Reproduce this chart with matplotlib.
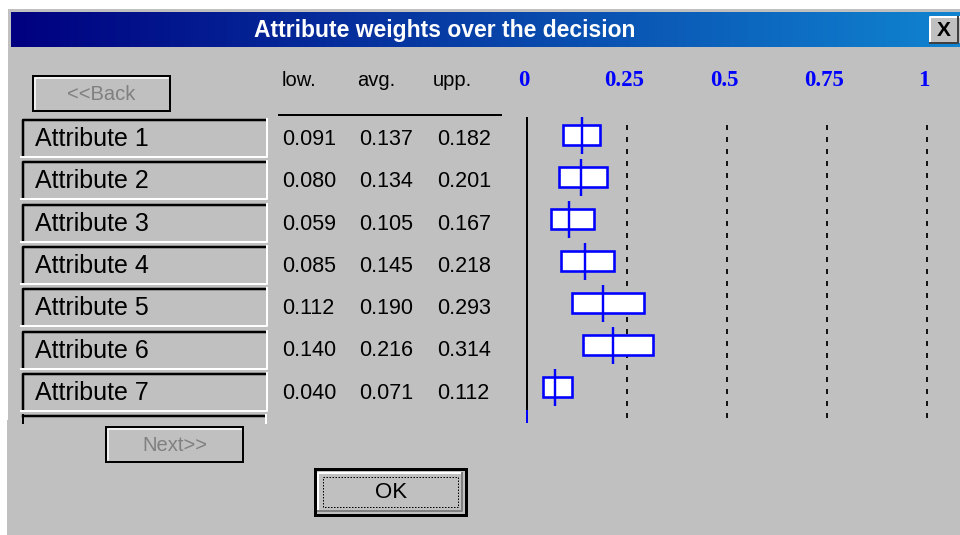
import numpy as np
import matplotlib
matplotlib.use('Agg')
import matplotlib.pyplot as plt
from matplotlib.patches import Rectangle
from matplotlib.colors import LinearSegmentedColormap

plt.rcParams['font.family'] = ['Liberation Sans', 'DejaVu Sans']

# data read from the dialog
attributes = ['Attribute 1', 'Attribute 2', 'Attribute 3', 'Attribute 4',
              'Attribute 5', 'Attribute 6', 'Attribute 7']
low = [0.091, 0.080, 0.059, 0.085, 0.112, 0.140, 0.040]
avg = [0.137, 0.134, 0.105, 0.145, 0.190, 0.216, 0.071]
upp = [0.182, 0.201, 0.167, 0.218, 0.293, 0.314, 0.112]
ticks = [0, 0.25, 0.5, 0.75, 1]
tick_labels = ['0', '0.25', '0.5', '0.75', '1']
columns = ['low.', 'avg.', 'upp.']

title = 'Attribute weights over the decision'
GRAY = '#c0c0c0'
PX = 0.72  # one pixel in points at dpi 100

fig = plt.figure(figsize=(9.6, 5.35), dpi=100)
fig.patch.set_facecolor('white')

# ---- dialog chrome, in pixel coordinates ----
ax0 = fig.add_axes([0, 0, 1, 1])
ax0.set_xlim(0, 960)
ax0.set_ylim(535, 0)
ax0.axis('off')

ax0.add_patch(Rectangle((8, 9), 960, 420, color=GRAY, lw=0))
ax0.add_patch(Rectangle((7, 420), 960, 120, color=GRAY, lw=0))

# title bar gradient
cmap = LinearSegmentedColormap.from_list('tb', ['#000080', '#1084d0'])
ax0.imshow(np.linspace(0, 1, 256)[None, :], cmap=cmap, aspect='auto',
           extent=(11, 960, 47, 12), zorder=1)
ax0.text(445, 30, title, color='white', fontsize=16.5, fontweight='bold',
         ha='center', va='center', zorder=3)

# close button
ax0.add_patch(Rectangle((930, 17), 30, 26, facecolor=GRAY, lw=0, zorder=2))
ax0.plot([930, 930, 960], [43, 17, 17], color='white', lw=2 * PX, zorder=3)
ax0.plot([930, 958, 958], [43, 43, 17], color='#404040', lw=2 * PX, zorder=3)
ax0.text(944, 30, 'X', fontsize=15, fontweight='bold', ha='center',
         va='center', zorder=4)


def button(x0, y0, x1, y1, label, color, fs):
    ax0.add_patch(Rectangle((x0, y0), x1 - x0, y1 - y0, facecolor=GRAY,
                            edgecolor='black', lw=2 * PX, zorder=2))
    ax0.plot([x0 + 2, x0 + 2, x1 - 2], [y1 - 2, y0 + 2, y0 + 2],
             color='white', lw=1.5 * PX, zorder=3)
    ax0.text((x0 + x1) / 2, (y0 + y1) / 2 + 1, label, color=color,
             fontsize=fs, ha='center', va='center', zorder=4)


button(33, 76, 170, 111, '<<Back', '#808080', 14.5)
button(106, 427, 243, 462, 'Next>>', '#808080', 14.5)

# OK button
ax0.add_patch(Rectangle((315, 469), 151, 46, facecolor=GRAY,
                        edgecolor='black', lw=3 * PX, zorder=2))
ax0.plot([318, 318, 462], [511, 473, 473], color='white', lw=2 * PX, zorder=3)
ax0.plot([318, 462, 462], [511, 511, 473], color='#808080', lw=2 * PX, zorder=3)
ax0.add_patch(Rectangle((323, 477), 135, 30, fill=False, edgecolor='black',
                        lw=1 * PX, linestyle=(0, (1.5, 1.5)), zorder=4))
ax0.text(391, 492, 'OK', fontsize=16, ha='center', va='center', zorder=5)

# attribute name boxes (sunken)
row_top = 119
pitch = 42.3
for i, name in enumerate(attributes + ['']):
    y0 = row_top + i * pitch
    y1 = y0 + 37
    if name == '':
        ax0.plot([23, 23], [423, y0], color='black', lw=2 * PX, zorder=3)
        ax0.plot([23, 265], [y0 + 1, y0 + 1], color='black', lw=2.5 * PX, zorder=3)
        ax0.plot([266, 266], [y0, 423], color='white', lw=2 * PX, zorder=3)
        continue
    ax0.plot([23, 23, 265], [y1, y0 + 1, y0 + 1], color='black', lw=2.5 * PX, zorder=3)
    ax0.plot([21, 267, 267], [y1 + 1, y1 + 1, y0], color='white', lw=2 * PX, zorder=3)
    ax0.text(35, y0 + 20, name, fontsize=18, ha='left', va='center', zorder=4)
    for j, vals in enumerate([low, avg, upp]):
        ax0.text(282 + j * 77.5, y0 + 20.5, '%.3f' % vals[i], fontsize=15.5,
                 ha='left', va='center', zorder=4)

# column headers
for j, col in enumerate(columns):
    ax0.text(282 + j * 75.5, 80, col, fontsize=14.5, ha='left', va='center')
ax0.plot([279, 501], [115, 115], color='black', lw=2 * PX)

# ---- the weight chart ----
x_zero, px_per_unit = 527, 400
top_px, bot_px = 110, 425
row0_px, row_px = 135, 42
ax = fig.add_axes([x_zero / 960, (535 - bot_px) / 535,
                   (960 - x_zero) / 960, (bot_px - top_px) / 535])
ax.set_xlim(0, (960 - x_zero) / px_per_unit)
ax.set_ylim((bot_px - row0_px) / row_px, (top_px - row0_px) / row_px)
ax.axis('off')
ax.patch.set_alpha(0)

for t in ticks[1:]:
    ax.axvline(t, ymin=0.022, ymax=0.956, color='#151515', lw=2 * PX,
               linestyle=(0, (2.5, 3.5)))
ax.axvline(0, ymin=0.044, ymax=0.975, color='black', lw=2 * PX, clip_on=False)
ax.axvline(0, ymin=0.0095, ymax=0.044, color='blue', lw=2 * PX, clip_on=False)

y = np.arange(len(attributes))
widths = np.array(upp) - np.array(low)
ax.barh(y, widths, left=low, height=20 / row_px, color='white',
        edgecolor='blue', lw=2.6 * PX, zorder=3)
ax.vlines(avg, y - 18.5 / row_px, y + 18.5 / row_px, color='blue',
          lw=2.4 * PX, zorder=4)

for t, lab in zip(ticks, tick_labels):
    ax0.text(x_zero + t * px_per_unit - 3, 81, lab, color='blue',
             family='Liberation Serif', fontweight='bold', fontsize=16.5,
             ha='center', va='center')

fig.savefig('out.png', dpi=100, facecolor='white')
